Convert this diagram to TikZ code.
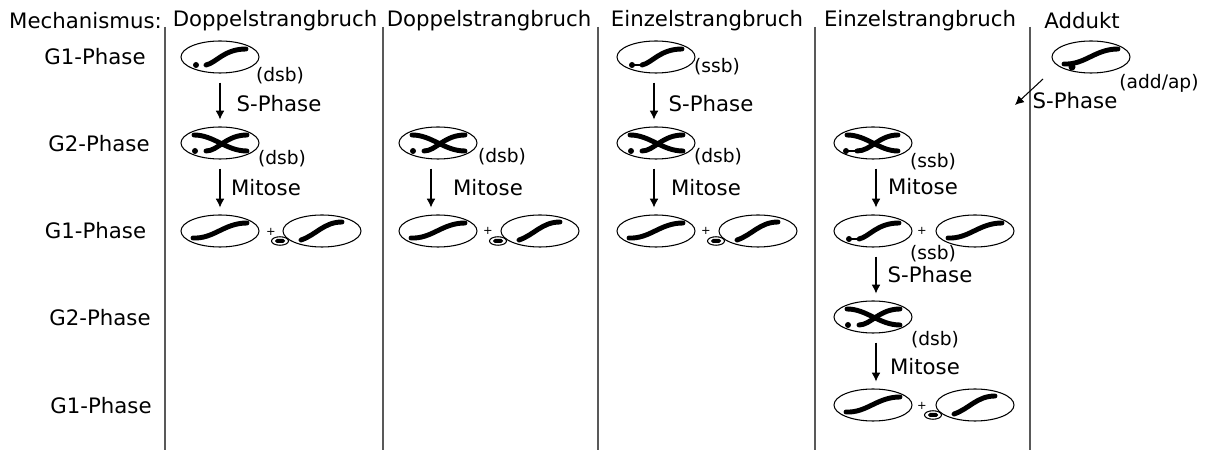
\documentclass[tikz,border=0pt]{standalone}
\usepackage{fontspec}
\setmainfont{DejaVu Sans}
\usetikzlibrary{shapes.geometric}
\usetikzlibrary{arrows.meta}
\tikzstyle{zelle}=[draw,ellipse,fill=white,minimum width=15.6mm,minimum height=6.4mm,inner sep=0pt,line width=0.6pt]
\tikzstyle{kern}=[draw,ellipse,minimum width=3.4mm,minimum height=1.7mm,inner sep=0pt,line width=0.6pt]
\tikzstyle{blob}=[line width=2.8pt,line cap=round]
\tikzstyle{txt}=[inner sep=0pt,font=\fontsize{12.1pt}{14pt}\selectfont]
\tikzstyle{klein}=[inner sep=0pt,font=\fontsize{10.6pt}{12pt}\selectfont]
\tikzstyle{plus}=[inner sep=0pt,font=\fontsize{6.5pt}{7pt}\selectfont]
\tikzstyle{pfeil}=[-{Latex[length=5pt,width=5pt]},line width=0.6pt,shorten >=1.4mm,shorten <=1.8mm]
\tikzset{
  ganz/.pic={\draw [blob] (-27,7) .. controls (-6,8) and (4,-8) .. (27,-8);},
  halb/.pic={\draw [blob] (-21,9) .. controls (-6,4) and (2,-9) .. (20,-9);},
  dsb/.pic={\fill (-24,8) circle (3);
    \draw [blob] (-14,8) .. controls (-4,6) and (4,-8) .. (26,-8);},
  ssb/.pic={\fill (-24,8) circle (3);
    \draw [line width=0.6pt] (-24,8) -- (-14,8);
    \draw [blob] (-14,8) .. controls (-4,6) and (4,-8) .. (26,-8);},
  adduct/.pic={\fill (-19,10) circle (3.5);
    \draw [blob] (-27,7) .. controls (-6,8) and (4,-8) .. (27,-8);},
  xdsb/.pic={\fill (-25,8) circle (3);
    \draw [blob] (-26,-8) .. controls (-6,-8) and (6,8) .. (27,8);
    \draw [blob] (27,-8) .. controls (6,-8) and (-2,8) .. (-14,8);},
  xssb/.pic={\fill (-27,8) circle (3);
    \draw [line width=0.6pt] (-27,8) -- (-16,8);
    \draw [blob] (-26,-8) .. controls (-6,-8) and (6,8) .. (25,8);
    \draw [blob] (25,-8) .. controls (6,-8) and (-2,8) .. (-16,8);},
}
\begin{document}
\begin{tikzpicture}[x=0.2mm,y=-0.2mm]
\useasboundingbox (0,0) rectangle (1208,450);
% Trennlinien
\foreach \x in {165,383,598,815,1030}
  \draw [line width=0.8pt,black!65] (\x,27) -- (\x,450);
% Kopfzeile und Phasen
\node [txt] (mech) at (85.5,21) {Mechanismus:};
\node [txt] (head1) at (275,21) {Doppelstrangbruch};
\node [txt] (head2) at (489,21) {Doppelstrangbruch};
\node [txt] (head3) at (707,21) {Einzelstrangbruch};
\node [txt] (head4) at (920,21) {Einzelstrangbruch};
\node [txt] (head5) at (1082,21) {Addukt};
\node [txt] (ph1) at (95,57) {G1-Phase};
\node [txt] (ph2) at (99,144) {G2-Phase};
\node [txt] (ph3) at (95.5,231) {G1-Phase};
\node [txt] (ph4) at (100,318) {G2-Phase};
\node [txt] (ph5) at (101,406) {G1-Phase};
% erste Spalte
\node [zelle] (a1) at (220,57) {};
\node [zelle] (a2) at (220,143) {};
\node [zelle] (a3) at (220,231) {};
\node [zelle] (a4) at (322,231) {};
\node [kern] (ak) at (280,241) {};
\pic at (a1) {dsb};
\pic at (a2) {xdsb};
\pic at (a3) {ganz};
\pic at (a4) {halb};
\fill [rounded corners=1] (275,239) rectangle (285,243);
\node [plus] (ap) at (271,232) {+};
\node [klein] at (280,76) {(dsb)};
\node [klein] at (282,159) {(dsb)};
\node [txt] at (279,104) {S-Phase};
\node [txt] at (266,188) {Mitose};
\draw [pfeil] (a1) -- (a2);
\draw [pfeil] (a2) -- (a3);
% zweite Spalte
\node [zelle] (b2) at (438,143) {};
\node [zelle] (b3) at (438,231) {};
\node [zelle] (b4) at (540,231) {};
\node [kern] (bk) at (498,241) {};
\pic at (b2) {xdsb};
\pic at (b3) {ganz};
\pic at (b4) {halb};
\fill [rounded corners=1] (493,239) rectangle (503,243);
\node [plus] (bp) at (488,231) {+};
\node [klein] at (502,157) {(dsb)};
\node [txt] at (488,188) {Mitose};
\draw [pfeil] ([xshift=-1.4mm]b2.south) -- ([xshift=-1.4mm]b3.north);
% dritte Spalte
\node [zelle] (c1) at (656,57) {};
\node [zelle] (c2) at (656,143) {};
\node [zelle] (c3) at (656,231) {};
\node [zelle] (c4) at (758,231) {};
\node [kern] (ck) at (716,241) {};
\pic at (c1) {ssb};
\pic at (c2) {xdsb};
\pic at (c3) {ganz};
\pic at (c4) {halb};
\fill [rounded corners=1] (711,239) rectangle (721,243);
\node [plus] (cp) at (706,231) {+};
\node [klein] at (717,67) {(ssb)};
\node [klein] at (718,157) {(dsb)};
\node [txt] at (711,104) {S-Phase};
\node [txt] at (706,188) {Mitose};
\draw [pfeil] ([xshift=-.4mm]c1.south) -- ([xshift=-.4mm]c2.north);
\draw [pfeil] ([xshift=-.4mm]c2.south) -- ([xshift=-.4mm]c3.north);
% vierte Spalte
\node [zelle] (d2) at (873,143) {};
\node [zelle] (d3) at (873,231) {};
\node [zelle] (d4) at (975,231) {};
\node [zelle] (d5) at (873,317) {};
\node [zelle] (d6) at (873,405) {};
\node [zelle] (d7) at (975,405) {};
\node [kern] (dk) at (933,415) {};
\pic at (d2) {xssb};
\pic at (d3) {ssb};
\pic at (d4) {ganz};
\pic at (d5) {xdsb};
\pic at (d6) {ganz};
\pic at (d7) {halb};
\fill [rounded corners=1] (928,413) rectangle (938,417);
\node [plus] (dp1) at (922,231) {+};
\node [plus] (dp2) at (922,406) {+};
\node [klein] at (933,162) {(ssb)};
\node [klein] at (933,254) {(ssb)};
\node [klein] at (935,340) {(dsb)};
\node [txt] at (923,187) {Mitose};
\node [txt] at (930,275) {S-Phase};
\node [txt] at (925,367) {Mitose};
\draw [pfeil] ([xshift=.6mm]d2.south) -- ([xshift=.6mm]d3.north);
\draw [pfeil] ([xshift=.6mm]d3.south) -- ([xshift=.6mm]d5.north);
\draw [pfeil] ([xshift=.6mm]d5.south) -- ([xshift=.6mm]d6.north);
% fuenfte Spalte
\node [zelle] (e1) at (1091,57) {};
\pic at (e1) {adduct};
\node [klein] at (1159,83) {(add/ap)};
\node [txt] at (1075,101) {S-Phase};
\coordinate (e2) at (1015,105);
\draw [pfeil,shorten <=0pt,shorten >=0pt] (1043,79) -- (e2);
\end{tikzpicture}
\end{document}
